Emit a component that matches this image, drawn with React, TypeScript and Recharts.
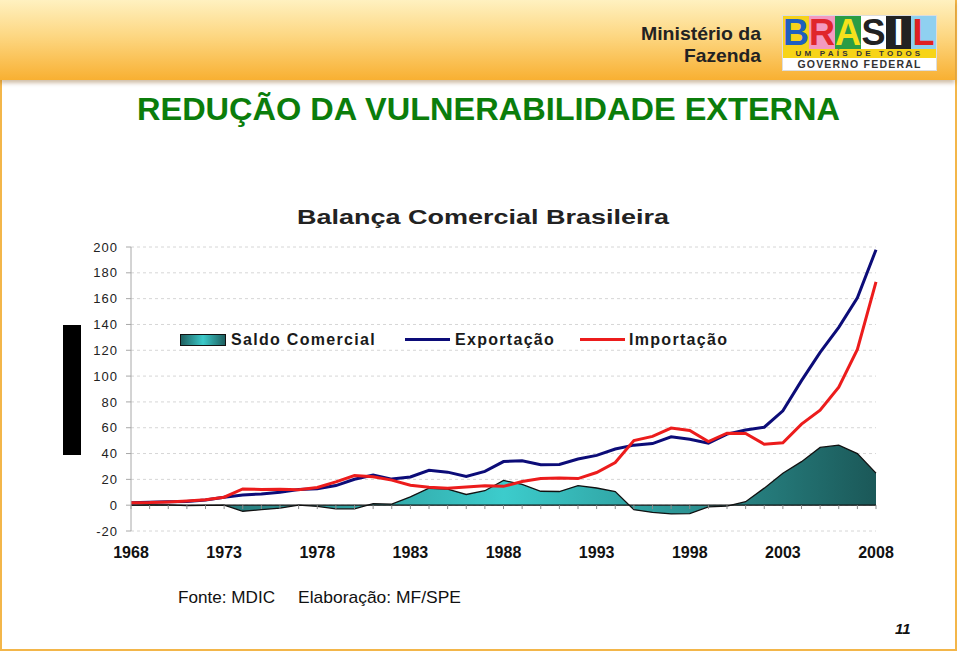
import React from 'react';
import { ComposedChart, Area, Line, XAxis, YAxis, CartesianGrid, ReferenceLine, Legend } from 'recharts';

// Balança comercial brasileira, US$ bilhões
const anos = [
  1968, 1969, 1970, 1971, 1972, 1973, 1974, 1975, 1976, 1977, 1978, 1979, 1980, 1981,
  1982, 1983, 1984, 1985, 1986, 1987, 1988, 1989, 1990, 1991, 1992, 1993, 1994, 1995,
  1996, 1997, 1998, 1999, 2000, 2001, 2002, 2003, 2004, 2005, 2006, 2007, 2008,
];
const exportacao = [
  1.9, 2.3, 2.7, 2.9, 4.0, 6.2, 7.9, 8.7, 10.1, 12.1, 12.7, 15.2, 20.1, 23.3,
  20.2, 21.9, 27.0, 25.6, 22.3, 26.2, 33.8, 34.4, 31.4, 31.6, 35.8, 38.6, 43.5, 46.5,
  47.7, 53.0, 51.1, 48.0, 55.1, 58.3, 60.4, 73.1, 96.5, 118.3, 137.8, 160.6, 197.9,
];
const importacao = [
  1.9, 2.0, 2.5, 3.2, 4.2, 6.2, 12.6, 12.2, 12.4, 12.0, 13.7, 18.1, 23.0, 22.1,
  19.4, 15.4, 13.9, 13.2, 14.0, 15.1, 14.6, 18.3, 20.7, 21.0, 20.6, 25.3, 33.1, 50.0,
  53.3, 59.7, 57.8, 49.3, 55.8, 55.6, 47.2, 48.3, 62.8, 73.6, 91.4, 120.6, 173.0,
];
const saldo = [
  0.0, 0.3, 0.2, -0.3, -0.2, 0.0, -4.7, -3.5, -2.3, 0.1, -1.0, -2.8, -2.8, 1.2,
  0.8, 6.5, 13.1, 12.5, 8.3, 11.2, 19.2, 16.1, 10.8, 10.6, 15.2, 13.3, 10.5, -3.5,
  -5.6, -6.8, -6.6, -1.3, -0.7, 2.7, 13.2, 24.8, 33.7, 44.7, 46.5, 40.0, 24.8,
];
const yTicks = [-20, 0, 20, 40, 60, 80, 100, 120, 140, 160, 180, 200];
const xTicks = [1968, 1973, 1978, 1983, 1988, 1993, 1998, 2003, 2008];

const data = anos.map((ano, i) => ({
  ano,
  saldo: saldo[i],
  exportacao: exportacao[i],
  importacao: importacao[i],
}));

const FONT = '"Liberation Sans", Arial, sans-serif';
const NAVY = '#0c0c78';
const RED = '#ec1c1c';

const LegendContent = () => {
  const txt: React.CSSProperties = {
    position: 'absolute', top: 0, fontFamily: FONT, fontWeight: 'bold', fontSize: 16,
    letterSpacing: 1.3, color: '#1a1a1a', lineHeight: '20px', whiteSpace: 'nowrap',
  };
  return (
    <div style={{ position: 'relative', width: 600, height: 20 }}>
      <div style={{
        position: 'absolute', left: 0, top: 4, width: 44, height: 10, border: '1px solid #111',
        background: 'linear-gradient(to right, #1e5f5f, #3ccaca 50%, #1e5f5f)',
      }} />
      <span style={{ ...txt, left: 51 }}>Saldo Comercial</span>
      <div style={{ position: 'absolute', left: 225, top: 8, width: 45, height: 3, background: NAVY }} />
      <span style={{ ...txt, left: 275 }}>Exportação</span>
      <div style={{ position: 'absolute', left: 400, top: 8, width: 45, height: 3, background: RED }} />
      <span style={{ ...txt, left: 449 }}>Importação</span>
    </div>
  );
};

const Logo = () => {
  const letters = [
    { l: 'B', bg: '#f6d21b', c: '#1f5fbf' },
    { l: 'R', bg: '#f39ac0', c: '#e0262b' },
    { l: 'A', bg: '#2a9d45', c: '#f5e11c' },
    { l: 'S', bg: '#ffffff', c: '#222222' },
    { l: 'I', bg: '#222222', c: '#ffffff' },
    { l: 'L', bg: '#8fd0f0', c: '#e02020' },
  ];
  return (
    <div style={{ position: 'absolute', left: 782, top: 15, width: 153, height: 54, background: '#fff', border: '1px solid #ddd' }}>
      <div style={{ display: 'flex', height: 33 }}>
        {letters.map((it) => (
          <div key={it.l} style={{
            flex: 1, background: it.bg, color: it.c, fontFamily: FONT, fontWeight: 'bold',
            fontSize: 36, lineHeight: '33px', textAlign: 'center',
          }}>{it.l}</div>
        ))}
      </div>
      <div style={{
        height: 9, background: '#f7d417', fontFamily: FONT, fontWeight: 'bold', fontSize: 8,
        lineHeight: '9px', textAlign: 'center', letterSpacing: 3.2, color: '#333',
      }}>UM PAÍS DE TODOS</div>
      <div style={{
        height: 12, fontFamily: FONT, fontWeight: 'bold', fontSize: 10.5, lineHeight: '12px',
        textAlign: 'center', letterSpacing: 1.2, color: '#333',
      }}>GOVERNO FEDERAL</div>
    </div>
  );
};

export default function App() {
  return (
    <div style={{ position: 'absolute', left: 0, top: 0, width: 960, height: 664, background: '#fff', overflow: 'hidden' }}>
      {/* moldura da página */}
      <div style={{
        position: 'absolute', left: 0, top: 0, width: 953, height: 649,
        borderLeft: '2px solid #f3b64a', borderRight: '2px solid #f3b64a', borderBottom: '2px solid #f3b64a',
      }} />
      {/* faixa do cabeçalho */}
      <div style={{
        position: 'absolute', left: 0, top: 0, width: 955, height: 80,
        background: 'linear-gradient(to bottom, #fff1c0 0%, #fdd782 45%, #f8b032 100%)',
        boxShadow: '0 3px 4px rgba(120,70,0,0.35)',
      }} />
      <Logo />
      <div style={{ position: 'absolute', left: 63, top: 325, width: 18, height: 130, background: '#000' }} />

      <svg width={960} height={664} style={{ position: 'absolute', left: 0, top: 0, pointerEvents: 'none' }}>
        <text x={761} y={40} textAnchor="end" fontFamily={FONT} fontWeight="bold" fontSize={19} fill="#222"
          textLength={120} lengthAdjust="spacingAndGlyphs">Ministério da</text>
        <text x={761} y={62} textAnchor="end" fontFamily={FONT} fontWeight="bold" fontSize={19} fill="#222"
          textLength={77} lengthAdjust="spacingAndGlyphs">Fazenda</text>
        <text x={137} y={120} fontFamily={FONT} fontWeight="bold" fontSize={31} fill="#0b7d0b"
          textLength={703} lengthAdjust="spacingAndGlyphs">REDUÇÃO DA VULNERABILIDADE EXTERNA</text>
        <text x={297} y={224} fontFamily={FONT} fontWeight="bold" fontSize={21} fill="#222"
          textLength={372} lengthAdjust="spacingAndGlyphs">Balança Comercial Brasileira</text>
        <text x={178} y={603} fontFamily={FONT} fontSize={17} fill="#111"
          textLength={97} lengthAdjust="spacingAndGlyphs">Fonte: MDIC</text>
        <text x={298} y={603} fontFamily={FONT} fontSize={17} fill="#111"
          textLength={163} lengthAdjust="spacingAndGlyphs">Elaboração: MF/SPE</text>
        <text x={895} y={634} fontFamily={FONT} fontWeight="bold" fontStyle="italic" fontSize={15} fill="#111">11</text>
      </svg>

      <div style={{ position: 'absolute', left: 0, top: 200 }}>
        <ComposedChart width={960} height={400} data={data} margin={{ top: 47, right: 84, bottom: 29, left: 71 }}>
          <defs>
            <linearGradient id="saldoFill" x1="0" y1="0" x2="1" y2="0">
              <stop offset="0%" stopColor="#1e5e5e" />
              <stop offset="50%" stopColor="#3ccccc" />
              <stop offset="100%" stopColor="#1b5858" />
            </linearGradient>
          </defs>
          <CartesianGrid horizontal vertical={false} stroke="#d6d6d6" strokeDasharray="3 3" />
          <XAxis dataKey="ano" type="number" domain={[1968, 2008]} ticks={xTicks} axisLine={false}
            tickLine={false} tickSize={6} tickMargin={10} height={40} interval={0}
            tick={{ fontFamily: FONT, fontWeight: 'bold', fontSize: 16, fill: '#111' }} />
          <YAxis type="number" domain={[-20, 200]} ticks={yTicks} width={60} interval={0}
            axisLine={{ stroke: '#a8a8a8' }} tickLine={{ stroke: '#a8a8a8' }} tickSize={5} tickMargin={8}
            tick={{ fontFamily: FONT, fontSize: 13, fill: '#222', letterSpacing: 1 }} />
          <Legend verticalAlign="middle" align="center" content={<LegendContent />}
            wrapperStyle={{ position: 'absolute', top: 130, left: 180, width: 600 }} />
          <Area dataKey="saldo" name="Saldo Comercial" type="linear" baseValue={0} fill="url(#saldoFill)"
            fillOpacity={1} stroke="#111" strokeWidth={1.3} isAnimationActive={false} />
          <ReferenceLine y={0} stroke="#111" strokeWidth={1.3} />
          {anos.map((ano) => (
            <ReferenceLine key={ano} segment={[{ x: ano, y: 0 }, { x: ano, y: -3 }]} stroke="#8a8a8a" />
          ))}
          <Line dataKey="exportacao" name="Exportação" type="linear" stroke={NAVY} strokeWidth={3}
            dot={false} activeDot={false} isAnimationActive={false} />
          <Line dataKey="importacao" name="Importação" type="linear" stroke={RED} strokeWidth={3}
            dot={false} activeDot={false} isAnimationActive={false} />
        </ComposedChart>
      </div>
    </div>
  );
}
